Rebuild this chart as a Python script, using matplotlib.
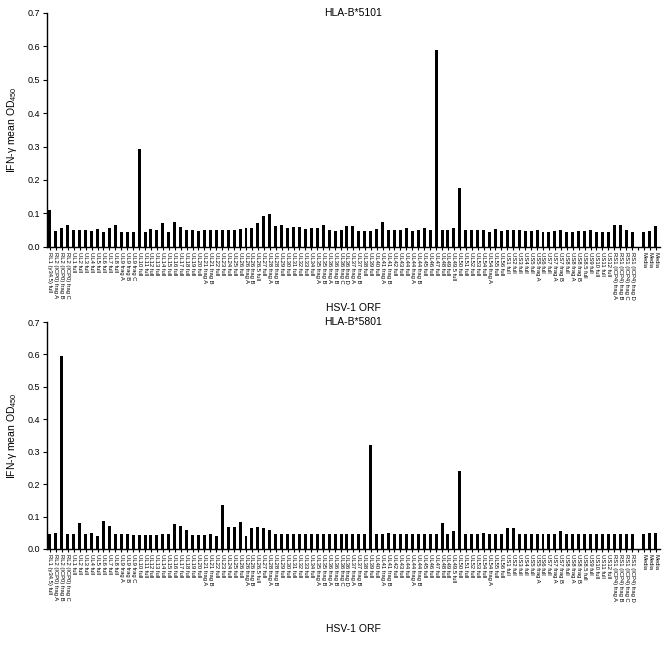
import matplotlib
matplotlib.use("Agg")
import matplotlib.pyplot as plt
import numpy as np

plt.rcParams["font.family"] = ["Liberation Sans", "DejaVu Sans"]

# ORF labels (same for both panels)
orfs = ["RL1 (γ34.5) full", "RL2 (ICP0) frag A", "RL2 (ICP0) frag B", "RL2 (ICP0) frag C"]
orfs += ["UL%d full" % n for n in range(1, 9)]
orfs += ["UL9 frag A", "UL9 frag B", "UL9 frag C"]
orfs += ["UL%d full" % n for n in range(10, 21)]
orfs += ["UL21 frag A", "UL21 frag B"]
orfs += ["UL22 full", "UL23 full", "UL24 full", "UL25 full", "UL26 full",
         "UL26 frag A", "UL26 frag B", "UL26.5 full"]
orfs += ["UL27 full", "UL28 frag A", "UL28 frag B"]
orfs += ["UL%d full" % n for n in range(29, 35)]
orfs += ["UL35 frag A", "UL35 frag B",
         "UL36 frag A", "UL36 frag B", "UL36 frag C", "UL36 frag D",
         "UL37 frag A", "UL37 frag B",
         "UL38 full", "UL39 full", "UL40 full", "UL41 frag A", "UL41 frag B",
         "UL42 full", "UL43 full", "UL44 full", "UL44 frag A", "UL44 frag B"]
orfs += ["UL%d full" % n for n in range(45, 50)]
orfs += ["UL49.5 full", "UL50 full", "UL51 full", "UL52 full", "UL53 full",
         "UL54 full", "UL54 frag A", "UL55 full", "UL56 full"]
orfs += ["US1 full", "US2 full", "US3 full", "US4 full", "US5 full", "US5 frag A",
         "US6 full", "US7 full", "US7 frag A", "US7 frag B", "US8 full",
         "US8 frag A", "US8 frag B", "US8.5 full", "US9 full", "US10 full",
         "US11 full", "US12 full"]
orfs += ["RS1 (ICP4) frag A", "RS1 (ICP4) frag B", "RS1 (ICP4) frag C", "RS1 (ICP4) frag D"]
labels = orfs + ["", "Media", "Media", "Media"]

# HLA-B*5101 (NaN = empty slot)
b5101 = [0.110, 0.047, 0.055, 0.064, 0.049, 0.049, 0.051, 0.047, 0.053, 0.045,
         0.057, 0.064, 0.043, 0.043, 0.043, 0.293, 0.045, 0.053, 0.049, 0.071,
         0.045, 0.073, 0.059, 0.049, 0.051, 0.047, 0.051, 0.049, 0.051, 0.051,
         0.049, 0.049, 0.053, 0.055, 0.055, 0.071, 0.093, 0.099, 0.061, 0.066,
         0.055, 0.059, 0.059, 0.053, 0.055, 0.057, 0.066, 0.051, 0.047, 0.049,
         0.061, 0.061, 0.047, 0.047, 0.047, 0.053, 0.073, 0.051, 0.051, 0.049,
         0.055, 0.047, 0.051, 0.055, 0.049, 0.589, 0.049, 0.049, 0.055, 0.176,
         0.049, 0.049, 0.049, 0.051, 0.045, 0.053, 0.047, 0.049, 0.049, 0.051,
         0.047, 0.047, 0.049, 0.045, 0.045, 0.047, 0.049, 0.045, 0.045, 0.047,
         0.047, 0.049, 0.045, 0.045, 0.045, 0.065, 0.065, 0.049, 0.045, np.nan,
         0.045, 0.047, 0.063]

# HLA-B*5801
b5801 = [0.045, 0.050, 0.595, 0.045, 0.045, 0.080, 0.045, 0.050, 0.040, 0.085,
         0.070, 0.045, 0.045, 0.045, 0.042, 0.042, 0.042, 0.042, 0.042, 0.045,
         0.045, 0.078, 0.072, 0.060, 0.042, 0.042, 0.042, 0.045, 0.040, 0.135,
         0.068, 0.068, 0.082, 0.040, 0.065, 0.068, 0.065, 0.058, 0.045, 0.045,
         0.045, 0.045, 0.045, 0.045, 0.045, 0.045, 0.045, 0.045, 0.045, 0.045,
         0.045, 0.045, 0.045, 0.045, 0.320, 0.045, 0.045, 0.048, 0.045, 0.045,
         0.045, 0.045, 0.045, 0.045, 0.045, 0.045, 0.080, 0.045, 0.055, 0.240,
         0.045, 0.045, 0.045, 0.048, 0.045, 0.045, 0.045, 0.065, 0.065, 0.045,
         0.045, 0.045, 0.045, 0.045, 0.045, 0.045, 0.055, 0.045, 0.045, 0.045,
         0.045, 0.045, 0.045, 0.045, 0.045, 0.045, 0.045, 0.045, 0.045, np.nan,
         0.045, 0.048, 0.048]

titles = ["HLA-B*5101", "HLA-B*5801"]
series = [b5101, b5801]

fig = plt.figure(figsize=(6.64, 6.5), dpi=100)
axes = [fig.add_axes([0.0708, 0.6205, 0.9232, 0.3595]),
        fig.add_axes([0.0708, 0.1554, 0.9232, 0.3492])]
xlabel_y = [-0.262, -0.352]

x = np.arange(len(labels))
for ax, vals, title, xly in zip(axes, series, titles, xlabel_y):
    ax.bar(x, vals, width=0.5, color="black")
    ax.set_xlim(-0.5, len(labels) - 0.3)
    ax.set_ylim(0, 0.7)
    ax.set_yticks(np.arange(0, 0.71, 0.1))
    ax.set_yticklabels(["%.1f" % v for v in np.arange(0, 0.71, 0.1)], fontsize=6.5)
    ax.set_xticks(x)
    ax.set_xticklabels(labels, rotation=-90, ha="center", va="top", fontsize=4.2)
    ax.tick_params(axis="x", length=2, width=0.8, pad=1.5)
    ax.tick_params(axis="y", length=3, width=0.8, pad=2)
    for s in ["top", "right"]:
        ax.spines[s].set_visible(False)
    for s in ["left", "bottom"]:
        ax.spines[s].set_linewidth(1.0)
    ax.text(0.5, 1.0, title, transform=ax.transAxes, ha="center", va="center", fontsize=7.5)
    ax.set_ylabel("IFN-γ mean OD$_{\\mathregular{450}}$", fontsize=7.5, labelpad=6)
    ax.set_xlabel("HSV-1 ORF", fontsize=7.5, va="center")
    ax.xaxis.set_label_coords(0.5, xly)

fig.savefig("out.png", dpi=100)
